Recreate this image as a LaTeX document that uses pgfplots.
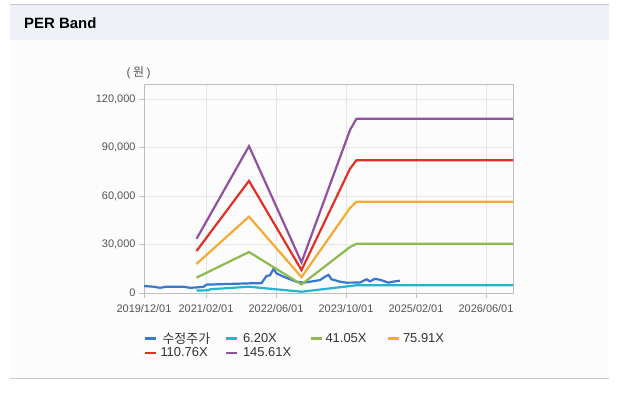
\documentclass[border=0pt]{standalone}
\usepackage{pgfplots}
\pgfplotsset{compat=1.18}
\usepackage{fontspec}
\setmainfont{Liberation Sans}
\newfontfamily\kr{Noto Sans CJK KR}
\definecolor{cBlue}{RGB}{52,120,210}
\definecolor{cCyan}{RGB}{33,182,206}
\definecolor{cGreen}{RGB}{141,186,78}
\definecolor{cOrange}{RGB}{248,169,51}
\definecolor{cRed}{RGB}{227,48,38}
\definecolor{cPurple}{RGB}{147,80,160}
\definecolor{hdr}{RGB}{238,242,247}
\definecolor{bodybg}{RGB}{252,252,252}
\definecolor{lineC}{RGB}{200,200,200}
\definecolor{frameC}{RGB}{190,190,190}
\definecolor{gridC}{RGB}{230,230,230}
\definecolor{tickC}{RGB}{85,85,85}
\definecolor{legC}{RGB}{51,51,51}
\begin{document}
\begin{tikzpicture}[x=1bp,y=1bp]
\path[use as bounding box] (0,0) rectangle (621,393);
\fill[white] (0,0) rectangle (621,393);
\fill[hdr] (10,353) rectangle (609,388.5);
\fill[bodybg] (10,14.5) rectangle (609,353);
\draw[lineC, line width=1.2bp] (10,388.8) -- (609,388.8);
\draw[lineC, line width=1.4bp] (10,14.5) -- (609,14.5);
\node[anchor=base west, inner sep=0pt, font=\fontsize{15}{18}\selectfont\bfseries] at (24,364.5) {PER Band};
\node[inner sep=0pt, font=\fontsize{12}{14}\selectfont, text=tickC] at (138.5,320.5) {(\hspace{2.5bp}{\kr 원}\hspace{2.5bp})};
\begin{axis}[
  at={(144bp,100bp)}, anchor=south west,
  scale only axis, width=369bp, height=209bp,
  xmin=1.6, xmax=75.4, ymin=0, ymax=129500,
  scaled y ticks=false,
  axis line style={draw=frameC, line width=0.8bp},
  grid=major, major grid style={draw=gridC, line width=0.8bp},
  tick align=outside, major tick length=5bp,
  tick style={draw=frameC, line width=0.8bp},
  xtick pos=bottom, ytick pos=left,
  xtick={1.6,14,28,42,56,70},
  xticklabels={2019/12/01,2021/02/01,2022/06/01,2023/10/01,2025/02/01,2026/06/01},
  ytick={0,30000,60000,90000,120000},
  yticklabels={0,{30,000},{60,000},{90,000},{120,000}},
  ticklabel style={font=\fontsize{11}{13}\selectfont, text=tickC},
  xticklabel style={yshift=-3bp},
  legend columns=4,
  legend style={at={(0,-0.189)}, anchor=north west, draw=none, fill=none,
    inner sep=0pt, outer sep=0pt, row sep=3bp,
    font=\fontsize{13}{15}\selectfont, text=legC,
    nodes={inner sep=0pt},
    /tikz/every even column/.append style={column sep=0pt}},
  legend image code/.code={\draw[#1, line width=2.5bp] (0bp,0bp) -- (11bp,0bp);},
  every axis plot/.append style={line width=2.2bp, no marks},
]
\addplot[cBlue] coordinates {
(1.6,4300)(3.5,3900)(4.8,3200)(6.1,3900)(9.5,3900)(10.8,3200)(11.8,3400)(13.5,3800)
(14.1,5200)(20.8,5800)(22.8,6000)(25.1,6000)(25.5,8000)(26.1,10500)(26.8,11000)
(27.5,15000)(28.1,12200)(29.5,10100)(30.8,8500)(32.1,7000)(33.5,6400)(34.8,7000)
(36.8,8000)(37.8,10100)(38.5,11200)(39.1,8500)(40.8,7000)(42.1,6400)(44.8,6500)
(46.1,8500)(46.8,7200)(47.8,8800)(48.8,8200)(50.5,6400)(51.3,7000)(52.8,7600)};
\addlegendentry{\makebox[67bp][l]{\hspace{5bp}\kr 수정주가}}
\addplot[cCyan] coordinates {
(12.1,1500)(14.5,1700)(14.8,2300)(22.6,3900)(33.1,800)(42.8,4300)(44.1,4800)(75.4,4800)};
\addlegendentry{\makebox[72bp][l]{\hspace{5bp}6.20X}}
\addplot[cGreen] coordinates {
(12.1,9500)(22.6,25400)(33.1,5300)(42.8,28500)(44.1,30500)(75.4,30500)};
\addlegendentry{\makebox[63bp][l]{\hspace{2bp}41.05X}}
\addplot[cOrange] coordinates {
(12.1,18000)(22.6,47300)(33.1,9800)(42.8,52700)(44.1,56500)(75.4,56500)};
\addlegendentry{\makebox[50bp][l]{\hspace{3bp}75.91X}}
\addplot[cRed] coordinates {
(12.1,26000)(22.6,69500)(33.1,14200)(42.8,77000)(44.1,82300)(75.4,82300)};
\addlegendentry{\makebox[67bp][l]{\hspace{3bp}110.76X}}
\addplot[cPurple] coordinates {
(12.1,33500)(22.6,91000)(33.1,19000)(42.8,101000)(44.1,108000)(75.4,108000)};
\addlegendentry{\makebox[72bp][l]{\hspace{5bp}145.61X}}
\end{axis}
\end{tikzpicture}
\end{document}
